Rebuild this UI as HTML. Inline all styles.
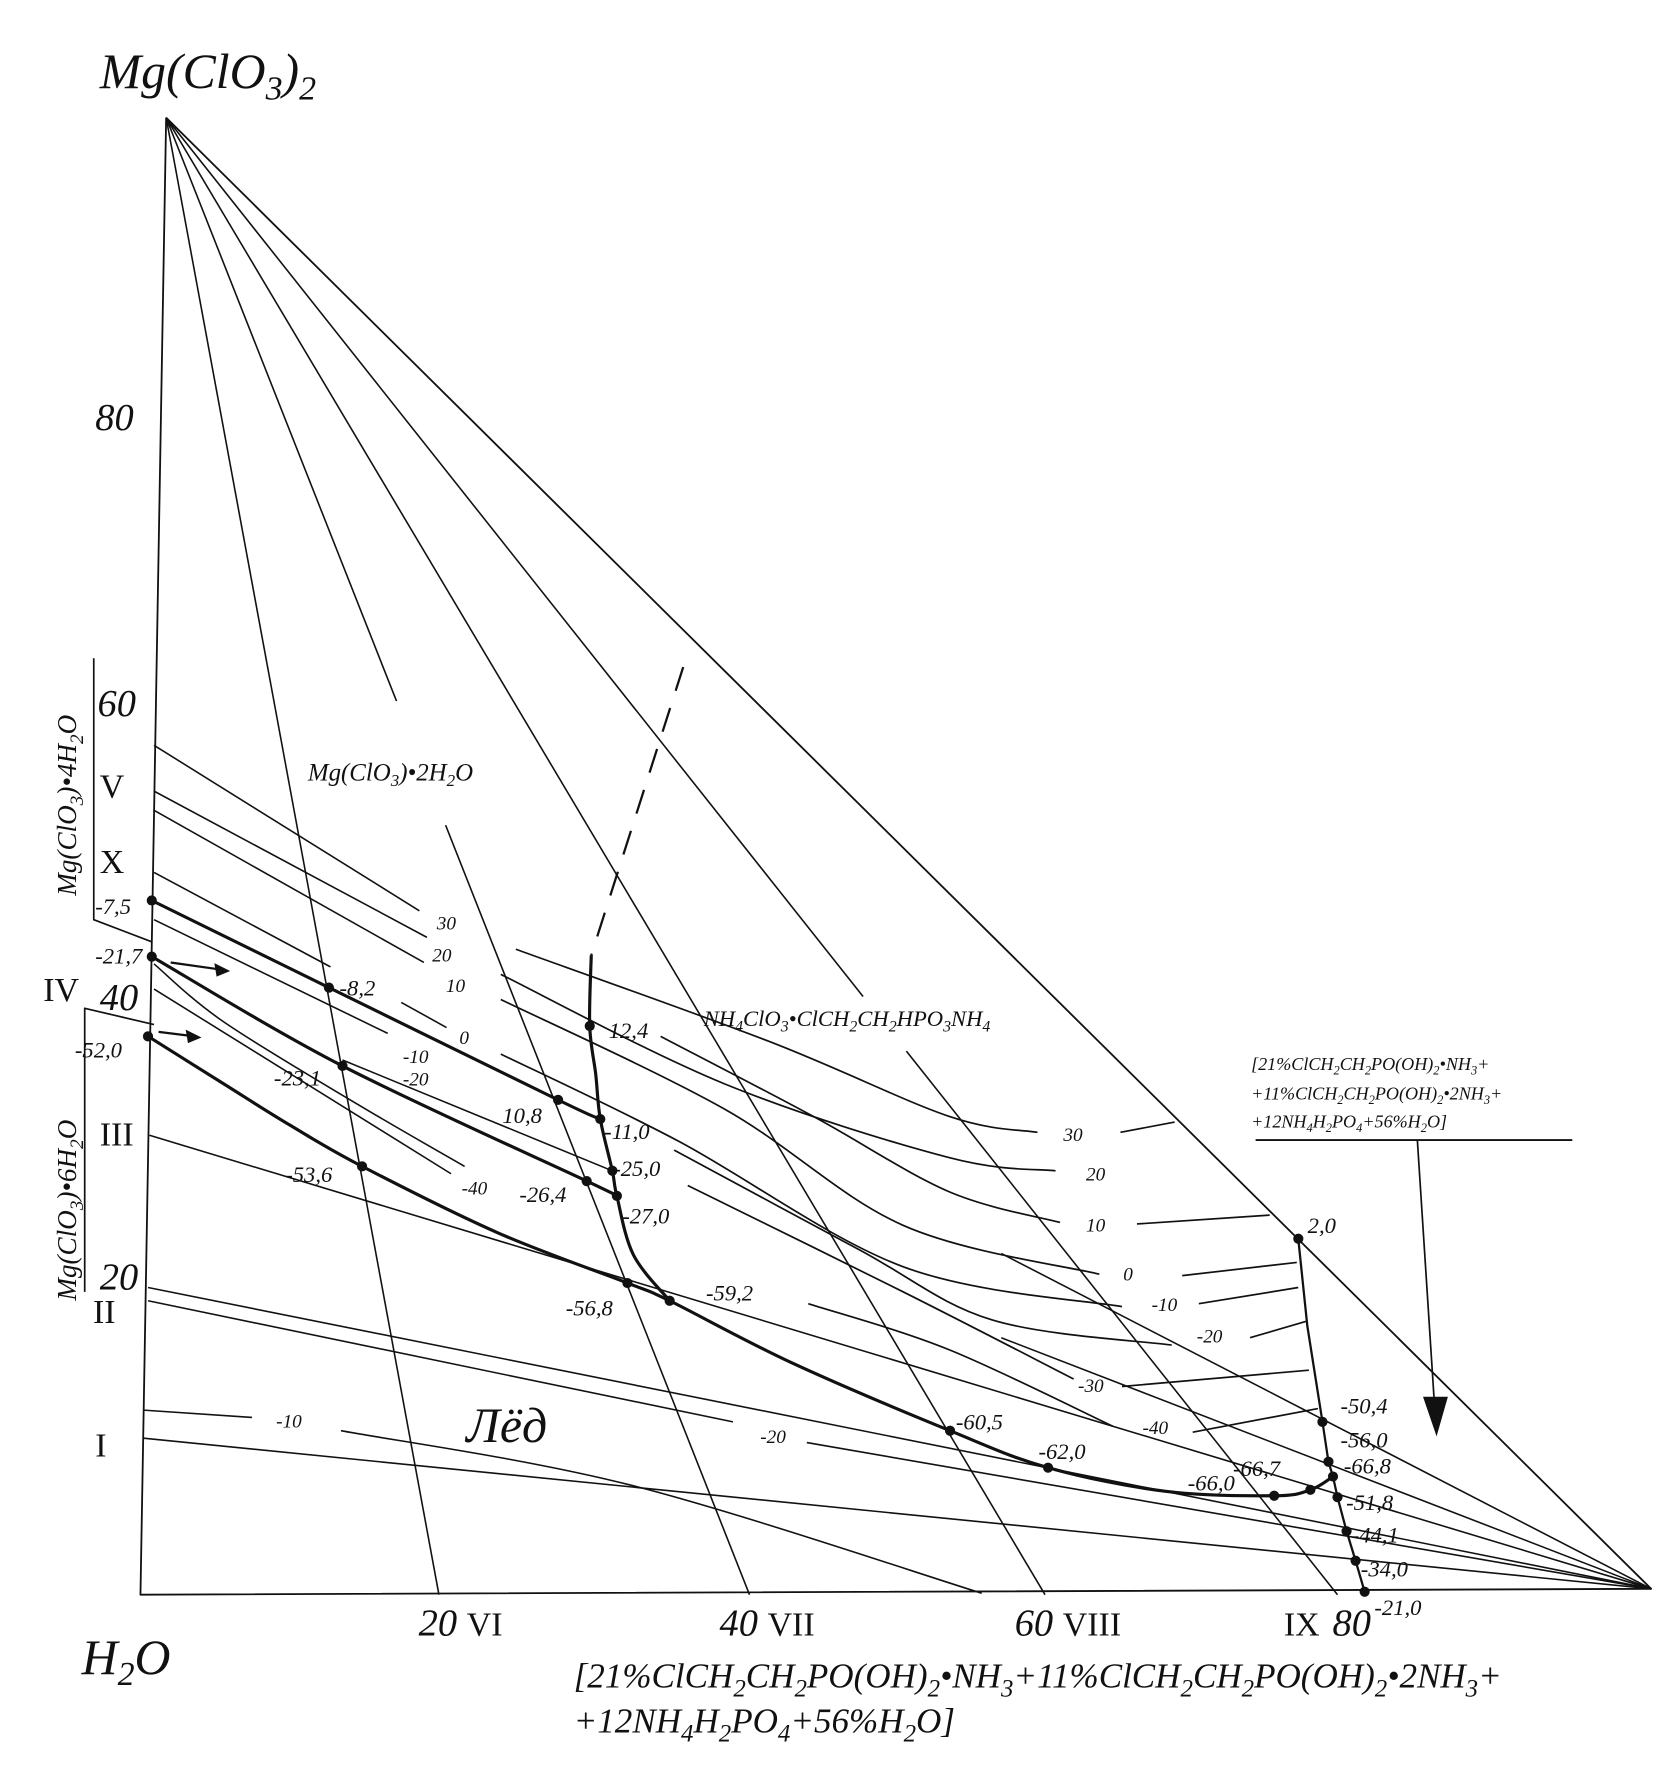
<!DOCTYPE html>
<html><head><meta charset="utf-8"><style>
html,body{margin:0;padding:0;background:#fff;}
svg{display:block;}
text{font-family:"Liberation Serif",serif;fill:#111;}
.it{font-style:italic;}
</style></head><body>
<svg id="chart" width="1663" height="1770" viewBox="0 0 1470 1565" xmlns="http://www.w3.org/2000/svg">
<g id="lines"></g>
<g id="dots"></g>
<g>
<text class="it" x="88" y="78" font-size="44">Mg(ClO<tspan font-size="30" dy="10">3</tspan><tspan dy="-10">)</tspan><tspan font-size="30" dy="10">2</tspan></text>
<text class="it" x="72" y="1480" font-size="44">H<tspan font-size="30" dy="10">2</tspan><tspan dy="-10">O</tspan></text>
<text class="it" x="84" y="380" font-size="34">80</text>
<text class="it" x="86" y="633" font-size="34">60</text>
<text class="it" x="88" y="893" font-size="34">40</text>
<text class="it" x="88" y="1140" font-size="34">20</text>
<text class="it" x="370" y="1446" font-size="34">20 <tspan font-style="normal" font-size="30">VI</tspan></text>
<text class="it" x="636" y="1446" font-size="34">40 <tspan font-style="normal" font-size="30">VII</tspan></text>
<text class="it" x="897" y="1446" font-size="34">60 <tspan font-style="normal" font-size="30">VIII</tspan></text>
<text x="1135" y="1446" font-size="30">IX</text>
<text class="it" x="1178" y="1446" font-size="34">80</text>
<text class="it" x="1215" y="1428" font-size="20">-21,0</text>
<text x="88" y="705" font-size="30">V</text>
<text x="88" y="772" font-size="30">X</text>
<text x="38" y="885" font-size="30">IV</text>
<text x="88" y="1013" font-size="30">III</text>
<text x="82" y="1170" font-size="30">II</text>
<text x="84" y="1288" font-size="30">I</text>
<text class="it" font-size="24" transform="translate(67,792) rotate(-90)">Mg(ClO<tspan font-size="17" dy="6">3</tspan><tspan dy="-6">)•4H</tspan><tspan font-size="17" dy="6">2</tspan><tspan dy="-6">O</tspan></text>
<text class="it" font-size="24" transform="translate(67,1150) rotate(-90)">Mg(ClO<tspan font-size="17" dy="6">3</tspan><tspan dy="-6">)•6H</tspan><tspan font-size="17" dy="6">2</tspan><tspan dy="-6">O</tspan></text>
<text class="it" x="272" y="690" font-size="22">Mg(ClO<tspan font-size="15" dy="5">3</tspan><tspan dy="-5">)•2H</tspan><tspan font-size="15" dy="5">2</tspan><tspan dy="-5">O</tspan></text>
<text class="it" x="622" y="907" font-size="20">NH<tspan font-size="14" dy="5">4</tspan><tspan dy="-5">ClO</tspan><tspan font-size="14" dy="5">3</tspan><tspan dy="-5">•ClCH</tspan><tspan font-size="14" dy="5">2</tspan><tspan dy="-5">CH</tspan><tspan font-size="14" dy="5">2</tspan><tspan dy="-5">HPO</tspan><tspan font-size="14" dy="5">3</tspan><tspan dy="-5">NH</tspan><tspan font-size="14" dy="5">4</tspan></text>
<text class="it" x="412" y="1275" font-size="44">Лёд</text>
<text class="it" x="1106" y="946" font-size="16">[21%ClCH<tspan font-size="11" dy="4">2</tspan><tspan dy="-4">CH</tspan><tspan font-size="11" dy="4">2</tspan><tspan dy="-4">PO(OH)</tspan><tspan font-size="11" dy="4">2</tspan><tspan dy="-4">•NH</tspan><tspan font-size="11" dy="4">3</tspan><tspan dy="-4">+</tspan></text>
<text class="it" x="1106" y="972" font-size="16">+11%ClCH<tspan font-size="11" dy="4">2</tspan><tspan dy="-4">CH</tspan><tspan font-size="11" dy="4">2</tspan><tspan dy="-4">PO(OH)</tspan><tspan font-size="11" dy="4">2</tspan><tspan dy="-4">•2NH</tspan><tspan font-size="11" dy="4">3</tspan><tspan dy="-4">+</tspan></text>
<text class="it" x="1106" y="997" font-size="16">+12NH<tspan font-size="11" dy="4">4</tspan><tspan dy="-4">H</tspan><tspan font-size="11" dy="4">2</tspan><tspan dy="-4">PO</tspan><tspan font-size="11" dy="4">4</tspan><tspan dy="-4">+56%H</tspan><tspan font-size="11" dy="4">2</tspan><tspan dy="-4">O]</tspan></text>
<line x1="1110" y1="1008" x2="1390" y2="1008" stroke="#111" stroke-width="1.6"/>
<line x1="1253" y1="1008" x2="1268" y2="1240" stroke="#111" stroke-width="1.5"/>
<polygon points="1258,1235 1280,1235 1270,1270" fill="#111"/>
<text class="it" x="507" y="1492" font-size="31">[21%ClCH<tspan font-size="22" dy="8">2</tspan><tspan dy="-8">CH</tspan><tspan font-size="22" dy="8">2</tspan><tspan dy="-8">PO(OH)</tspan><tspan font-size="22" dy="8">2</tspan><tspan dy="-8">•NH</tspan><tspan font-size="22" dy="8">3</tspan><tspan dy="-8">+11%ClCH</tspan><tspan font-size="22" dy="8">2</tspan><tspan dy="-8">CH</tspan><tspan font-size="22" dy="8">2</tspan><tspan dy="-8">PO(OH)</tspan><tspan font-size="22" dy="8">2</tspan><tspan dy="-8">•2NH</tspan><tspan font-size="22" dy="8">3</tspan><tspan dy="-8">+</tspan></text>
<text class="it" x="507" y="1532" font-size="31">+12NH<tspan font-size="22" dy="8">4</tspan><tspan dy="-8">H</tspan><tspan font-size="22" dy="8">2</tspan><tspan dy="-8">PO</tspan><tspan font-size="22" dy="8">4</tspan><tspan dy="-8">+56%H</tspan><tspan font-size="22" dy="8">2</tspan><tspan dy="-8">O]</tspan></text>
<g class="it" font-size="20">
<text x="84" y="808">-7,5</text><text x="84" y="852">-21,7</text><text x="66" y="935">-52,0</text>
<text x="300" y="880">-8,2</text><text x="242" y="960">-23,1</text><text x="252" y="1045">-53,6</text>
<text x="444" y="993">10,8</text><text x="459" y="1063">-26,4</text><text x="538" y="918">12,4</text>
<text x="534" y="1007">-11,0</text><text x="542" y="1040">-25,0</text><text x="550" y="1082">-27,0</text>
<text x="500" y="1163">-56,8</text><text x="624" y="1150">-59,2</text><text x="845" y="1264">-60,5</text>
<text x="918" y="1290">-62,0</text><text x="1050" y="1318">-66,0</text><text x="1090" y="1305">-66,7</text>
<text x="1156" y="1090">2,0</text><text x="1185" y="1250">-50,4</text><text x="1185" y="1280">-56,0</text>
<text x="1188" y="1303">-66,8</text><text x="1190" y="1335">-51,8</text><text x="1195" y="1364">-44,1</text><text x="1203" y="1394">-34,0</text>
</g>
<g class="it" font-size="17">
<text x="386" y="822">30</text><text x="382" y="850">20</text><text x="394" y="877">10</text><text x="406" y="923">0</text>
<text x="356" y="940">-10</text><text x="356" y="960">-20</text><text x="408" y="1056">-40</text>
<text x="940" y="1009">30</text><text x="960" y="1044">20</text><text x="960" y="1089">10</text><text x="993" y="1132">0</text>
<text x="1018" y="1159">-10</text><text x="1058" y="1187">-20</text><text x="953" y="1231">-30</text><text x="1010" y="1268">-40</text>
<text x="244" y="1262">-10</text><text x="672" y="1276">-20</text>
</g>
</g>
</svg>
<script>
// composition data: [b = % complex (right), a = % Mg(ClO3)2 (up)]
const vertices = [[0,0],[1.7,100],[100.2,0.4]];
const rayEnds = [19.8, 40.4, 60.0, 79.4];
const rayGapTop = [null, 60.5, null, 40.5];
const rayGapBottom = [null, 52.1, null, 36.8];
const thinLines = [
 [[0.9,57.5],[18.5,46.3]], [[0.9,54.4],[19.0,44.5]], [[0.9,53.1],[18.8,42.8]],
 [[0.9,48.9],[12.6,42.5]], [[17.3,40.1],[20.3,38.4]], [[0.9,45.7],[16.4,38.0]],
 [[0.9,41.0],[20.6,28.5]], [[0.9,42.7],[5.5,38.8],[14.4,33.2],[21.5,29.0]],
 [[0.6,31.1],[100.2,0.4]], [[0.5,20.8],[100.2,0.4]],
 [[0.5,19.9],[39.3,11.7]], [[44.2,10.3],[100.2,0.4]], [[0.2,10.6],[100.2,0.4]],
 [[0.2,12.5],[7.4,12.0]], [[13.3,11.1],[32.6,7.4],[55.8,0.1]],
 [[13.4,36.2],[31.3,28.7]],
 [[57.1,23.1],[100.2,0.4]], [[57.1,17.4],[100.2,0.4]]
];
const isotherms = [
 [[24.9,43.7],[41.6,37.5],[53.6,32.4],[59.5,31.3]],
 [[23.9,42.0],[38.7,34.6],[53.6,29.6],[60.7,28.7]],
 [[34.5,37.8],[44.6,32.4],[53.6,27.3],[61.0,25.2]],
 [[23.9,40.3],[38.7,32.9],[50.6,25.0],[63.6,21.7]],
 [[23.9,36.6],[35.7,30.7],[50.6,22.2],[65.1,19.5]],
 [[35.4,30.1],[47.6,23.4],[56.5,18.6],[68.4,16.9]],
 [[36.3,27.7],[50.6,20.5],[61.9,14.6]],
 [[44.3,19.7],[53.6,16.6],[64.5,11.4]],
 [[65.0,31.3],[68.6,32.0]], [[66.1,25.1],[74.9,25.7]], [[69.1,21.6],[76.7,22.5]],
 [[70.2,19.7],[76.8,20.8]], [[73.6,17.4],[77.3,18.5]], [[65.1,14.1],[77.5,15.2]],
 [[69.8,11.0],[78.1,12.6]]
];
const thickLines = [
 [[0.75,47.0],[12.5,41.1],[27.7,33.5],[30.5,32.2]],
 [[0.75,43.2],[13.4,35.8],[29.6,28.0],[31.6,27.0]],
 [[0.5,37.8],[5.5,34.6],[9.9,31.8],[14.7,29.0],[23.7,24.5],[32.3,21.1],[35.1,19.9],[43.2,15.7],[53.7,11.1],[60.2,8.6],[68.0,7.0],[75.2,6.7],[77.6,7.1],[79.1,8.0]],
 [[29.9,43.3],[29.8,38.5],[30.2,35.2],[30.5,32.2],[31.3,28.7],[31.6,27.0],[32.7,23.0],[35.1,19.9]]
];
const rightBoundary = [[76.8,24.1],[77.4,18.2],[78.4,11.7],[78.8,9.0],[79.1,8.0],[79.4,6.6],[80.0,4.3],[80.6,2.3],[81.2,0.2]];
const dashedBoundary = [[36.0,62.8],[29.9,43.3]];
const upperBracket = [[-3.1,63.4],[-3.1,45.7],[0.75,44.2]];
const lowerBracket = [[-3.7,20.5],[-3.7,39.7],[0.9,38.6]];
const points = [[0.75,47.0],[0.75,43.2],[0.5,37.8],[12.5,41.1],[13.4,35.8],[14.7,29.0],[27.7,33.5],[29.6,28.0],[29.8,38.5],[30.5,32.2],[31.3,28.7],[31.6,27.0],[32.3,21.1],[35.1,19.9],[53.7,11.1],[60.2,8.6],[75.2,6.7],[77.6,7.1],[76.8,24.1],[78.4,11.7],[78.8,9.0],[79.1,8.0],[79.4,6.6],[80.0,4.3],[80.6,2.3],[81.2,0.2]];
const arrows = [[[2.0,42.8],[5.5,42.3]],[[1.2,38.1],[3.6,37.8]]];

const NS='http://www.w3.org/2000/svg';
function X(b,a){return 124+13.33*b;}
function Y(b,a){return 1410-13.06*a;}
const gL=document.getElementById('lines'), gD=document.getElementById('dots');
function pathD(pts,smooth){
 const P=pts.map(q=>[X(q[0],q[1]),Y(q[0],q[1])]);
 let d='M'+P[0][0].toFixed(1)+','+P[0][1].toFixed(1);
 if(!smooth||P.length<3){for(let i=1;i<P.length;i++)d+=' L'+P[i][0].toFixed(1)+','+P[i][1].toFixed(1);return d;}
 for(let i=0;i<P.length-1;i++){
  const p0=P[Math.max(0,i-1)],p1=P[i],p2=P[i+1],p3=P[Math.min(P.length-1,i+2)];
  const c1=[p1[0]+(p2[0]-p0[0])/6,p1[1]+(p2[1]-p0[1])/6];
  const c2=[p2[0]-(p3[0]-p1[0])/6,p2[1]-(p3[1]-p1[1])/6];
  d+=' C'+c1[0].toFixed(1)+','+c1[1].toFixed(1)+' '+c2[0].toFixed(1)+','+c2[1].toFixed(1)+' '+p2[0].toFixed(1)+','+p2[1].toFixed(1);
 }
 return d;
}
function poly(pts,w,name,dash,sharp){
 const p=document.createElementNS(NS,'path');
 p.setAttribute('d',pathD(pts,!sharp));
 p.setAttribute('fill','none');p.setAttribute('stroke','#111');p.setAttribute('stroke-width',w);
 p.setAttribute('stroke-linejoin','round');
 if(dash)p.setAttribute('stroke-dasharray',dash);
 
 
 gL.appendChild(p);
}
poly([vertices[1],vertices[0],vertices[2],vertices[1]],1.6,'triangle-frame',null,true);
rayEnds.forEach((e,i)=>{
 const top=vertices[1], bot=[e,0];
 const at=a=>{const t=(top[1]-a)/(top[1]-bot[1]);return [top[0]+(bot[0]-top[0])*t,a];};
 if(rayGapTop[i]==null) poly([top,bot],1.4,'apex-ray');
 else { poly([top,at(rayGapTop[i])],1.4,'apex-ray'); poly([at(rayGapBottom[i]),bot],1.4,'apex-ray'); }
});
thinLines.forEach(l=>poly(l,1.4,'tie-line'));
isotherms.forEach(l=>poly(l,1.5,'isotherm'));
thickLines.forEach(l=>poly(l,2.8,'eutonic-curve'));
poly(rightBoundary,2,'right-boundary-curve',null,true);
poly(dashedBoundary,2,'dashed-boundary','22,16');
poly(upperBracket,1.5,'tetrahydrate-bracket',null,true);
poly(lowerBracket,1.5,'hexahydrate-bracket',null,true);
points.forEach(q=>{
 const c=document.createElementNS(NS,'circle');
 c.setAttribute('cx',X(q[0],q[1]));c.setAttribute('cy',Y(q[0],q[1]));c.setAttribute('r',4.5);c.setAttribute('fill','#111');
 
 
 gD.appendChild(c);
});
arrows.forEach(ar=>{
 poly(ar,2,'direction-arrow');
 const x2=X(ar[1][0],ar[1][1]),y2=Y(ar[1][0],ar[1][1]);
 const h=document.createElementNS(NS,'polygon');
 h.setAttribute('points',(x2+6)+','+(y2+1)+' '+(x2-8)+','+(y2-6)+' '+(x2-6)+','+(y2+6));
 h.setAttribute('fill','#111');
 
 
 gD.appendChild(h);
});
</script>
</body></html>
